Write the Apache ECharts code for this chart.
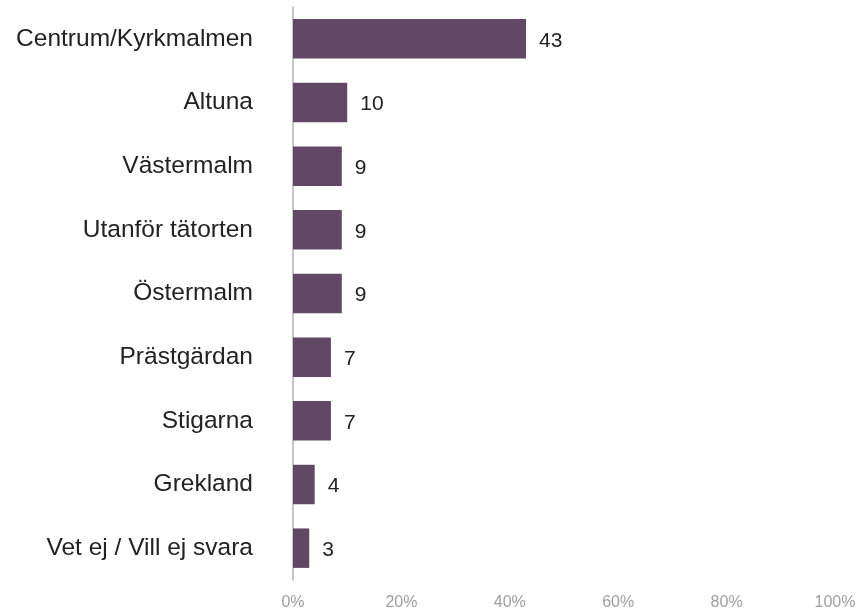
<!DOCTYPE html>
<html>
<head>
<meta charset="utf-8">
<script src="https://cdn.jsdelivr.net/npm/echarts@6/dist/echarts.min.js"></script>
<style>html,body{margin:0;padding:0;background:#fff}#c{width:860px;height:611px}</style>
</head>
<body>
<div id="c"></div>
<script>
const categories = ["Centrum/Kyrkmalmen","Altuna","Västermalm","Utanför tätorten","Östermalm","Prästgärdan","Stigarna","Grekland","Vet ej / Vill ej svara"];
const values = [43,10,9,9,9,7,7,4,3];
const tickLabels = ["0%","20%","40%","60%","80%","100%"];

const chart = echarts.init(document.getElementById('c'), null, {renderer:'canvas'});
chart.setOption({
  animation:false,
  backgroundColor:'#fff',
  grid:{left:293,right:25,top:7,bottom:30,containLabel:false},
  xAxis:{
    type:'value',min:0,max:100,interval:20,
    axisLine:{show:false},axisTick:{show:false},splitLine:{show:false},
    axisLabel:{margin:15,fontFamily:'Liberation Sans, Arial',fontSize:16,color:'#a0a0a0',
      formatter:function(v){return tickLabels[Math.round(v/20)];}}
  },
  yAxis:{
    type:'category',data:categories,inverse:true,
    axisLine:{show:true,lineStyle:{color:'#b3b3b3',width:1.5}},
    axisTick:{show:false},
    axisLabel:{margin:40,padding:[4,0,0,0],fontFamily:'Liberation Sans, Arial',fontSize:24.5,color:'#222'}
  },
  series:[{
    type:'bar',data:values,barCategoryGap:'38%',
    itemStyle:{color:'#614864'},
    label:{show:true,position:'right',distance:13,offset:[0,2],fontFamily:'Liberation Sans, Arial',fontSize:21,color:'#222'}
  }]
});
</script>
</body>
</html>
